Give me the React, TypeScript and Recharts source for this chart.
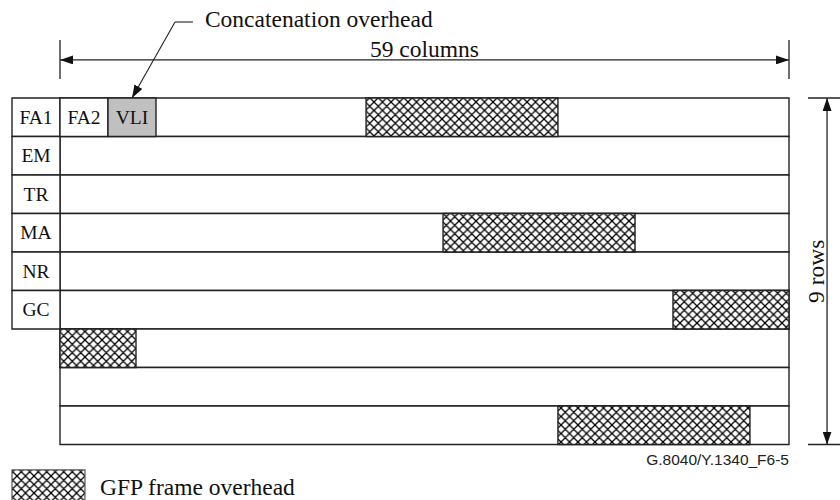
import {
  ComposedChart,
  ReferenceArea,
  ReferenceDot,
  ReferenceLine,
  Scatter,
  XAxis,
  YAxis,
} from 'recharts'

// frame geometry, in columns and rows
const COLUMNS = 59
const ROWS = 9
const CELL_W = 3.885 // width of one overhead byte cell (FA1, FA2, VLI)

const rowLabels = ['FA1', 'EM', 'TR', 'MA', 'NR', 'GC']
const firstRowCells = ['FA2', 'VLI']
const firstRowFills = ['#ffffff', '#c0c0c0']

// GFP frame overhead blocks: row index, start column, end column
const hatchRows = [0, 3, 5, 6, 8]
const hatchStart = [24.77, 31.0, 49.61, 0, 40.3]
const hatchEnd = [40.3, 46.54, 59, 6.15, 55.84]

const labelPoints = [
  ...rowLabels.map((text, i) => ({ x: -CELL_W / 2, y: i + 0.5, text })),
  ...firstRowCells.map((text, i) => ({ x: CELL_W * (i + 0.5), y: 0.5, text })),
]

// where the dimension annotations sit, outside the grid
const DIM_Y = -0.99
const DIM_TICK = [-1.506, -0.494]
const DIM_X = 62.08
const DIM_X_TICK = [60.54, 63.2]
const LEADER = { textX: 10.76, elbowX: 9.31, y: -1.974 }
const LEGEND_BOX = { x2: 2.02, y1: 9.66, y2: 10.7 }

const SERIF = '"Liberation Serif", "Times New Roman", serif'
const SANS = '"Liberation Sans", Arial, sans-serif'
const INK = '#222'

export default function App() {
  return (
    <div
      style={{
        position: 'absolute',
        left: 0,
        top: 0,
        width: 840,
        height: 500,
        background: '#fff',
        overflow: 'hidden',
      }}
    >
      <svg width={0} height={0} style={{ position: 'absolute' }}>
        <defs>
          <pattern
            id="gfp-hatch"
            patternUnits="userSpaceOnUse"
            width={8.5}
            height={8.5}
          >
            <rect width={8.5} height={8.5} fill="#fff" />
            <path
              d="M0,0 L8.5,8.5 M8.5,0 L0,8.5 M-1,7.5 L1,9.5 M7.5,-1 L9.5,1 M-1,1 L1,-1 M7.5,9.5 L9.5,7.5"
              stroke="#000"
              strokeWidth={1.3}
            />
          </pattern>
          <marker
            id="arrow"
            viewBox="0 0 13 9"
            refX={13}
            refY={4.5}
            markerWidth={13}
            markerHeight={9}
            markerUnits="userSpaceOnUse"
            orient="auto-start-reverse"
          >
            <path d="M0,0 L13,4.5 L0,9 Z" fill="#111" />
          </marker>
        </defs>
      </svg>
      <ComposedChart
        width={840}
        height={500}
        margin={{ top: 98, right: 51, bottom: 55.5, left: 12 }}
      >
        <XAxis
          type="number"
          dataKey="x"
          domain={[-CELL_W, COLUMNS]}
          allowDataOverflow
          hide
        />
        <YAxis
          type="number"
          dataKey="y"
          domain={[0, ROWS]}
          reversed
          allowDataOverflow
          hide
        />

        {/* the 9 rows of 59 columns */}
        {Array.from({ length: ROWS }, (_, i) => (
          <ReferenceArea
            key={'row' + i}
            x1={0}
            x2={COLUMNS}
            y1={i}
            y2={i + 1}
            fill="#fff"
            fillOpacity={1}
            stroke={INK}
            strokeWidth={1.4}
          />
        ))}
        {rowLabels.map((t, i) => (
          <ReferenceArea
            key={t}
            x1={-CELL_W}
            x2={0}
            y1={i}
            y2={i + 1}
            fill="#fff"
            fillOpacity={1}
            stroke={INK}
            strokeWidth={1.4}
            ifOverflow="visible"
          />
        ))}
        {firstRowCells.map((t, i) => (
          <ReferenceArea
            key={t}
            x1={CELL_W * i}
            x2={CELL_W * (i + 1)}
            y1={0}
            y2={1}
            fill={firstRowFills[i]}
            fillOpacity={1}
            stroke={INK}
            strokeWidth={1.4}
          />
        ))}
        {hatchRows.map((r, i) => (
          <ReferenceArea
            key={'gfp' + i}
            x1={hatchStart[i]}
            x2={hatchEnd[i]}
            y1={r}
            y2={r + 1}
            fill="url(#gfp-hatch)"
            fillOpacity={1}
            stroke={INK}
            strokeWidth={1.4}
          />
        ))}

        {/* 59 columns dimension */}
        <ReferenceLine
          segment={[
            { x: 0, y: DIM_Y },
            { x: COLUMNS, y: DIM_Y },
          ]}
          stroke={INK}
          strokeWidth={1.3}
          markerStart="url(#arrow)"
          markerEnd="url(#arrow)"
          ifOverflow="visible"
          label={(p: any) => (
            <text
              x={p.viewBox.x + p.viewBox.width / 2}
              y={p.viewBox.y - 3}
              textAnchor="middle"
              fontFamily={SERIF}
              fontSize={23.5}
              fill="#111"
            >
              59 columns
            </text>
          )}
        />
        {[0, COLUMNS].map((x) => (
          <ReferenceLine
            key={'tick' + x}
            segment={[
              { x, y: DIM_TICK[0] },
              { x, y: DIM_TICK[1] },
            ]}
            stroke={INK}
            strokeWidth={1.3}
            ifOverflow="visible"
          />
        ))}

        {/* 9 rows dimension */}
        <ReferenceLine
          segment={[
            { x: DIM_X, y: 0 },
            { x: DIM_X, y: ROWS },
          ]}
          stroke={INK}
          strokeWidth={1.3}
          markerStart="url(#arrow)"
          markerEnd="url(#arrow)"
          ifOverflow="visible"
          label={(p: any) => {
            const x = p.viewBox.x - 3
            const y = p.viewBox.y + p.viewBox.height / 2
            return (
              <text
                x={x}
                y={y}
                transform={`rotate(-90 ${x} ${y})`}
                textAnchor="middle"
                fontFamily={SERIF}
                fontSize={23.5}
                fill="#111"
              >
                9 rows
              </text>
            )
          }}
        />
        {[0, ROWS].map((y) => (
          <ReferenceLine
            key={'rtick' + y}
            segment={[
              { x: DIM_X_TICK[0], y },
              { x: DIM_X_TICK[1], y },
            ]}
            stroke={INK}
            strokeWidth={1.3}
            ifOverflow="visible"
          />
        ))}

        {/* concatenation overhead leader */}
        <ReferenceLine
          segment={[
            { x: LEADER.elbowX, y: LEADER.y },
            { x: LEADER.textX, y: LEADER.y },
          ]}
          stroke={INK}
          strokeWidth={1.1}
          ifOverflow="visible"
          label={(p: any) => (
            <text
              x={p.viewBox.x + p.viewBox.width + 12}
              y={p.viewBox.y + 5}
              fontFamily={SERIF}
              fontSize={23.5}
              fill="#111"
            >
              Concatenation overhead
            </text>
          )}
        />
        <ReferenceLine
          segment={[
            { x: LEADER.elbowX, y: LEADER.y },
            { x: CELL_W * 1.5, y: 0 },
          ]}
          stroke={INK}
          strokeWidth={1.1}
          markerEnd="url(#arrow)"
          ifOverflow="visible"
        />

        {/* figure id */}
        <ReferenceDot
          x={COLUMNS}
          y={ROWS}
          r={0}
          fill="none"
          stroke="none"
          ifOverflow="visible"
          label={(p: any) => (
            <text
              x={p.viewBox.x}
              y={p.viewBox.y + 20.5}
              textAnchor="end"
              fontFamily={SANS}
              fontSize={15.5}
              fill="#222"
            >
              G.8040/Y.1340_F6-5
            </text>
          )}
        />

        {/* legend */}
        <ReferenceArea
          x1={-CELL_W}
          x2={LEGEND_BOX.x2}
          y1={LEGEND_BOX.y1}
          y2={LEGEND_BOX.y2}
          fill="url(#gfp-hatch)"
          fillOpacity={1}
          stroke="#555"
          strokeWidth={1.2}
          ifOverflow="visible"
          label={(p: any) => (
            <text
              x={p.viewBox.x + p.viewBox.width + 15}
              y={p.viewBox.y + 25}
              fontFamily={SERIF}
              fontSize={23.5}
              fill="#111"
            >
              GFP frame overhead
            </text>
          )}
        />

        <Scatter
          data={labelPoints}
          isAnimationActive={false}
          shape={(p: any) => (
            <text
              x={p.cx}
              y={p.cy}
              dy="0.33em"
              textAnchor="middle"
              fontFamily={SERIF}
              fontSize={19.5}
              fill="#111"
            >
              {p.payload.text}
            </text>
          )}
        />
      </ComposedChart>
    </div>
  )
}
